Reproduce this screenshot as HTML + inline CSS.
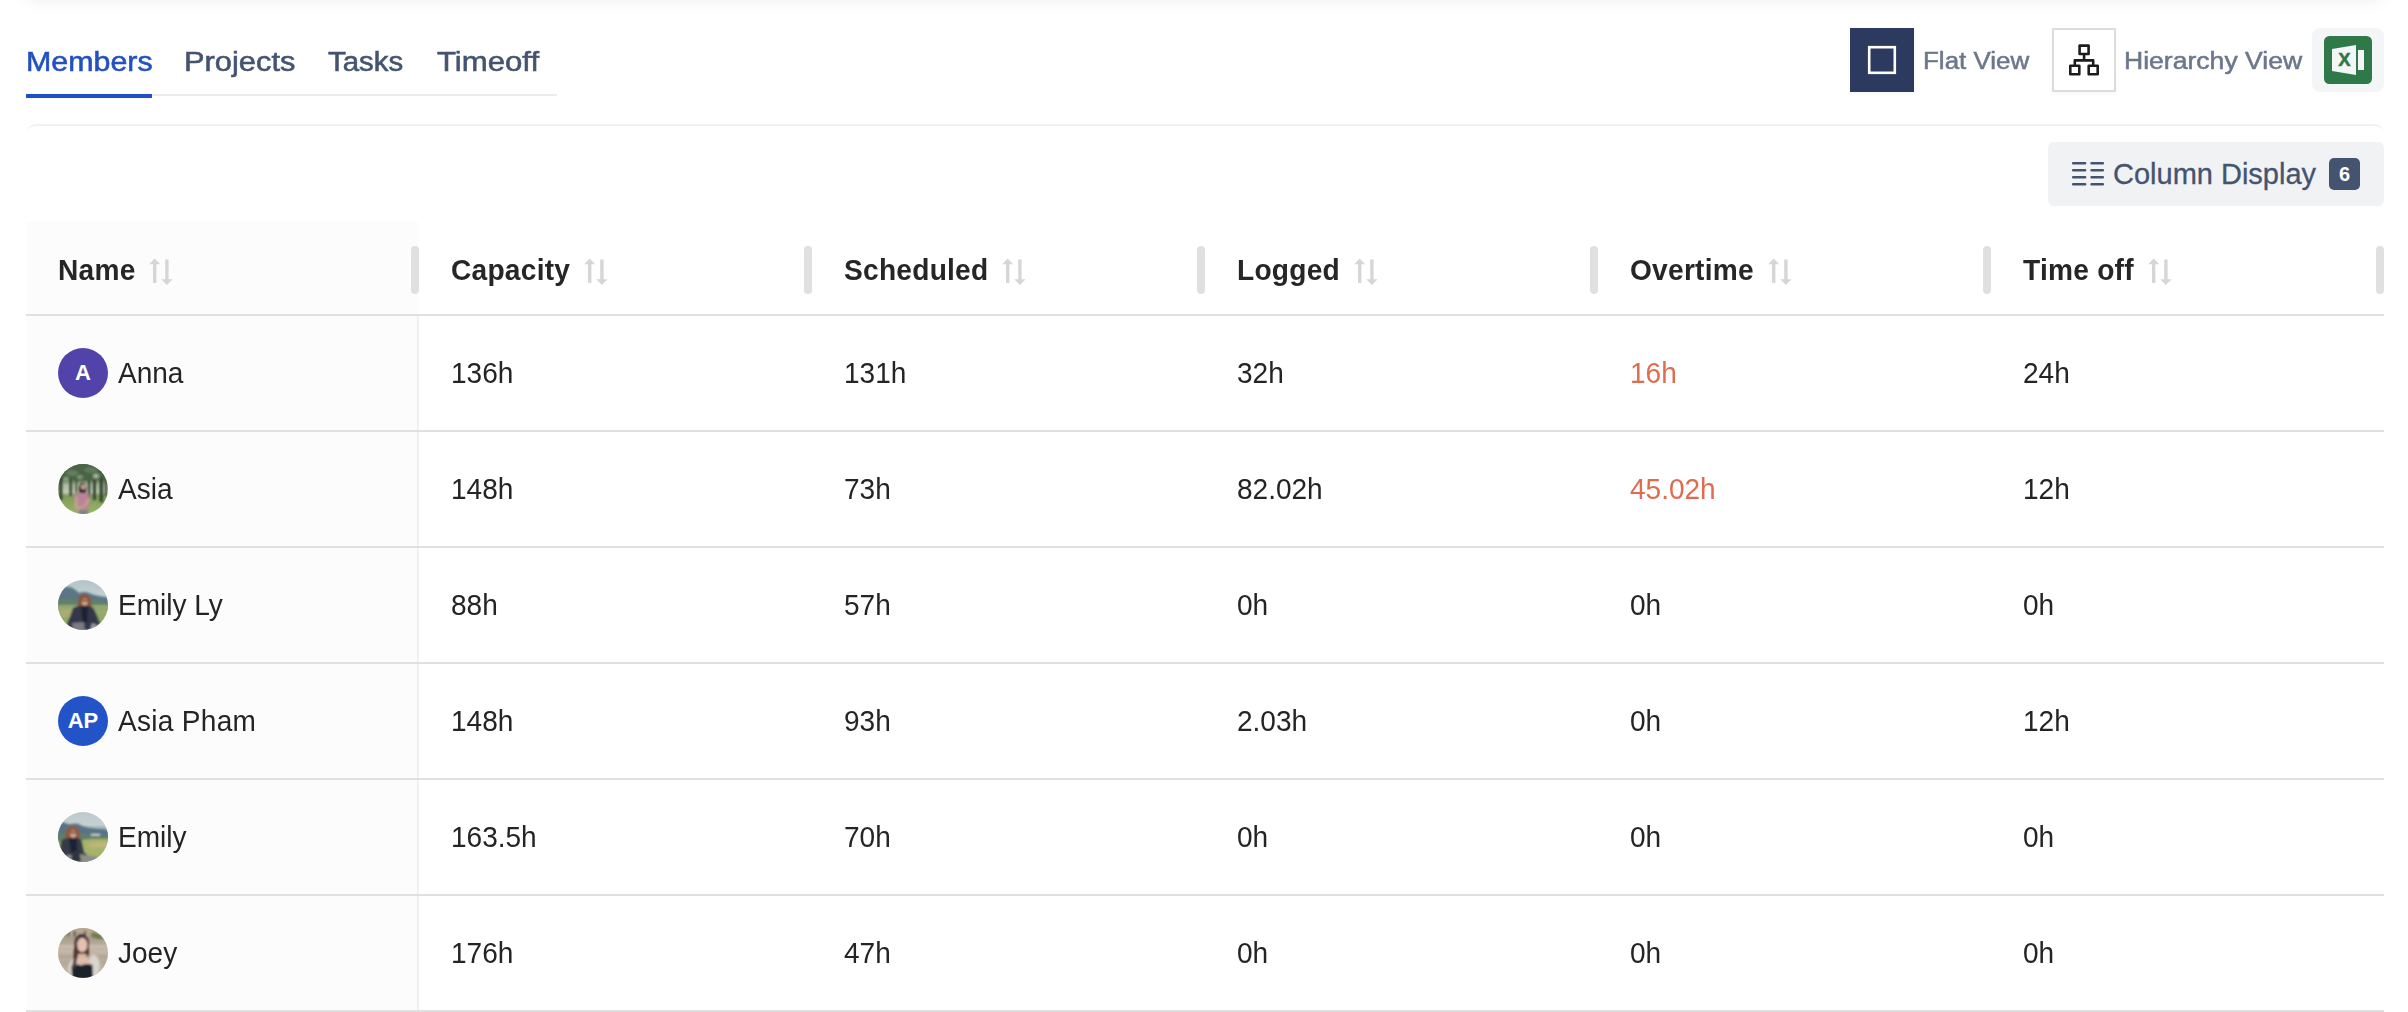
<!DOCTYPE html>
<html lang="en">
<head>
<meta charset="utf-8">
<title>Members report</title>
<style>
*{box-sizing:border-box;margin:0;padding:0}
html,body{width:2408px;height:1012px;overflow:hidden;background:#fff}
body{position:relative;font-family:"Liberation Sans",Arial,sans-serif;color:#242424}
.abs{position:absolute}
.topshadow{left:26px;top:-24px;width:2358px;height:24px;box-shadow:0 0 16px rgba(0,0,0,.075);border-radius:8px}
.tab{position:absolute;top:44px;height:36px;line-height:36px;font-size:27px;transform-origin:0 50%;color:#44546f;white-space:nowrap;-webkit-text-stroke:0.55px currentColor}
.tab.active{color:#2350c1}
.tabline{left:26px;top:94px;width:531px;height:2px;background:#ebebed}
.tabactive{left:26px;top:94px;width:126px;height:4px;background:#2050c5}
.vbtn{position:absolute;top:28px;width:64px;height:64px;box-shadow:0 2px 3px rgba(0,0,0,.035)}
.vlabel{position:absolute;top:43px;height:36px;line-height:36px;font-size:23px;transform-origin:0 50%;color:#6b778c;white-space:nowrap;-webkit-text-stroke:0.5px currentColor}
.card{left:26px;top:124px;width:2358px;height:900px;border-top:2px solid #f0f0f0;border-radius:10px}
.coldisp{left:2048px;top:142px;width:336px;height:64px;background:#f1f2f4;border-radius:6px}
.coldisp .txt{position:absolute;left:65px;top:14px;height:36px;line-height:36px;font-size:29px;transform-origin:0 50%;transform:scaleX(1.0);color:#44546f;white-space:nowrap;-webkit-text-stroke:0.3px currentColor}
.coldisp .badge{position:absolute;left:281px;top:16px;width:31px;height:32px;border-radius:5px;background:#44546f;color:#fff;font-size:20px;font-weight:bold;line-height:33px;text-align:center}
.namebg{left:26px;top:222px;width:392px;height:800px;background:#fcfcfc}
.vline{left:417px;top:316px;width:2px;height:700px;background:#f0f0f0}
.hline{left:26px;width:2358px;height:2px;background:#e0e0e0}
.th{position:absolute;top:250px;height:40px;line-height:40px;font-size:29px;transform:scaleX(0.97);transform-origin:0 50%;font-weight:bold;color:#262626;white-space:nowrap;letter-spacing:0.25px}
.rz{position:absolute;top:246px;width:7.5px;height:48px;border-radius:4px;background:#e0e0e0}
.sort{position:absolute;top:258px;width:26px;height:28px}
.td{position:absolute;height:40px;line-height:40px;font-size:28.6px;transform:scaleX(0.98);transform-origin:0 50%;color:#242424;white-space:nowrap}
.td.red{color:#e06c4f}
.av svg{display:block}
.av{position:absolute;left:58px;width:50px;height:50px;border-radius:50%;overflow:hidden;color:#fff;text-align:center;font-weight:bold;line-height:50px;font-size:22px}
</style>
</head>
<body>
<div class="abs topshadow"></div>

<!-- tabs -->
<div class="tab active" style="left:26.1px;transform:scaleX(1.125)">Members</div>
<div class="tab" style="left:184.1px;transform:scaleX(1.142)">Projects</div>
<div class="tab" style="left:328.4px;transform:scaleX(1.090)">Tasks</div>
<div class="tab" style="left:437.2px;transform:scaleX(1.153)">Timeoff</div>
<div class="abs tabline"></div>
<div class="abs tabactive"></div>

<!-- view switch -->
<div class="vbtn" style="left:1850px;background:#2b3a5e">
  <svg width="64" height="64" viewBox="0 0 64 64"><rect x="19.2" y="19.2" width="25.6" height="25.6" fill="none" stroke="#fff" stroke-width="2.6"/></svg>
</div>
<div class="vlabel" style="left:1922.8px;transform:scaleX(1.129)">Flat View</div>
<div class="vbtn" style="left:2052px;background:#fff;border:2px solid #dcdcdc">
  <svg width="60" height="60" viewBox="0 0 60 60" fill="none" stroke="#1c1c1c" stroke-width="2.6" stroke-linejoin="round">
    <rect x="25.6" y="15.6" width="9" height="8.4"/>
    <rect x="16.3" y="35.8" width="9" height="8.4"/>
    <rect x="34.7" y="35.8" width="9" height="8.4"/>
    <path d="M30.1 24v6.4M20.8 35.8v-5.4h18.4v5.4"/>
  </svg>
</div>
<div class="vlabel" style="left:2124.2px;transform:scaleX(1.155)">Hierarchy View</div>
<div class="abs" style="left:2312px;top:28px;width:72px;height:64px;background:#f4f5f7;border-radius:8px">
  <svg class="abs" style="left:12px;top:8px" width="48" height="48" viewBox="0 0 48 48">
    <rect width="48" height="48" rx="5.5" fill="#2f7847"/>
    <path d="M8 13 L32 9 V39 L8 35 Z" fill="#f4f5f7"/>
    <rect x="34" y="14" width="6" height="20" fill="#f4f5f7"/>
    <text x="20.4" y="30.3" font-family="Liberation Sans, sans-serif" font-weight="bold" font-size="18.5" fill="#2f7847" stroke="#2f7847" stroke-width=".5" text-anchor="middle">X</text>
  </svg>
</div>

<div class="abs card"></div>

<!-- column display -->
<div class="abs coldisp">
  <svg class="abs" style="left:24px;top:19px" width="32" height="26" viewBox="0 0 32 26" stroke="#44546f" stroke-width="2.6" stroke-linecap="round">
    <path d="M1.1 2.2h12M1.1 9.2h12M1.1 16.2h12M1.1 23.2h12M19.6 2.2h11.3M19.6 9.2h11.3M19.6 16.2h11.3M19.6 23.2h11.3"/>
  </svg>
  <div class="txt">Column Display</div>
  <div class="badge">6</div>
</div>

<!-- table -->
<div class="abs namebg"></div>
<div class="abs vline"></div>
<!-- header -->
<div class="th" style="left:58px">Name</div>
<svg class="sort" style="left:149px" viewBox="0 0 26 28" fill="#d6d6d6"><path d="M5.7 0.5 L11.2 6.2 H7.4 V25 H4 V6.2 H0.2 Z"/><path d="M17.9 27 L12.2 21.2 H16.2 V1.6 H19.6 V21.2 H23.6 Z"/></svg>
<div class="rz" style="left:411px"></div>
<div class="th" style="left:451px">Capacity</div>
<svg class="sort" style="left:584px" viewBox="0 0 26 28" fill="#d6d6d6"><path d="M5.7 0.5 L11.2 6.2 H7.4 V25 H4 V6.2 H0.2 Z"/><path d="M17.9 27 L12.2 21.2 H16.2 V1.6 H19.6 V21.2 H23.6 Z"/></svg>
<div class="rz" style="left:804px"></div>
<div class="th" style="left:844px">Scheduled</div>
<svg class="sort" style="left:1002px" viewBox="0 0 26 28" fill="#d6d6d6"><path d="M5.7 0.5 L11.2 6.2 H7.4 V25 H4 V6.2 H0.2 Z"/><path d="M17.9 27 L12.2 21.2 H16.2 V1.6 H19.6 V21.2 H23.6 Z"/></svg>
<div class="rz" style="left:1197px"></div>
<div class="th" style="left:1237px">Logged</div>
<svg class="sort" style="left:1354px" viewBox="0 0 26 28" fill="#d6d6d6"><path d="M5.7 0.5 L11.2 6.2 H7.4 V25 H4 V6.2 H0.2 Z"/><path d="M17.9 27 L12.2 21.2 H16.2 V1.6 H19.6 V21.2 H23.6 Z"/></svg>
<div class="rz" style="left:1590px"></div>
<div class="th" style="left:1630px">Overtime</div>
<svg class="sort" style="left:1768px" viewBox="0 0 26 28" fill="#d6d6d6"><path d="M5.7 0.5 L11.2 6.2 H7.4 V25 H4 V6.2 H0.2 Z"/><path d="M17.9 27 L12.2 21.2 H16.2 V1.6 H19.6 V21.2 H23.6 Z"/></svg>
<div class="rz" style="left:1983px"></div>
<div class="th" style="left:2023px">Time off</div>
<svg class="sort" style="left:2148px" viewBox="0 0 26 28" fill="#d6d6d6"><path d="M5.7 0.5 L11.2 6.2 H7.4 V25 H4 V6.2 H0.2 Z"/><path d="M17.9 27 L12.2 21.2 H16.2 V1.6 H19.6 V21.2 H23.6 Z"/></svg>
<div class="rz" style="left:2376px"></div>
<div class="abs hline" style="top:314px"></div>
<div class="abs hline" style="top:430px"></div>
<div class="abs hline" style="top:546px"></div>
<div class="abs hline" style="top:662px"></div>
<div class="abs hline" style="top:778px"></div>
<div class="abs hline" style="top:894px"></div>
<div class="abs hline" style="top:1010px"></div>
<!-- row 1 -->
<div class="av" id="av1" style="top:348px;background:#5243aa">A</div>
<div class="td" style="left:118px;top:353px">Anna</div>
<div class="td" style="left:451px;top:353px">136h</div>
<div class="td" style="left:844px;top:353px">131h</div>
<div class="td" style="left:1237px;top:353px">32h</div>
<div class="td red" style="left:1630px;top:353px">16h</div>
<div class="td" style="left:2023px;top:353px">24h</div>
<!-- row 2 -->
<div class="av" id="av2" style="top:464px"><svg width="50" height="50" viewBox="0 0 50 50"><defs><linearGradient id="g2" x1="0" y1="0" x2="0" y2="1"><stop offset="0" stop-color="#3d5539"/><stop offset=".28" stop-color="#4b6445"/><stop offset=".42" stop-color="#aebba2"/><stop offset=".56" stop-color="#c3cdb6"/><stop offset=".64" stop-color="#7f9c5b"/><stop offset="1" stop-color="#97b566"/></linearGradient><filter id="b2" x="-10%" y="-10%" width="120%" height="120%"><feGaussianBlur stdDeviation="1"/></filter></defs><rect width="50" height="50" fill="url(#g2)"/><g filter="url(#b2)"><g fill="#34442f"><rect x="1" y="8" width="3.4" height="28"/><rect x="11.5" y="10" width="2.6" height="22"/><rect x="17.5" y="12" width="1.6" height="18"/><rect x="30" y="10" width="2.2" height="24"/><rect x="35" y="12" width="3" height="24"/><rect x="41.5" y="10" width="3.6" height="28"/><rect x="47" y="14" width="2" height="18"/></g><ellipse cx="25" cy="7" rx="27" ry="9.5" fill="#4a6346"/><ellipse cx="14" cy="9" rx="6" ry="3" fill="#64805c"/><ellipse cx="33" cy="6" rx="7" ry="3" fill="#5f7a58"/><ellipse cx="38" cy="12" rx="3" ry="2.5" fill="#9fb096"/><ellipse cx="22" cy="13" rx="3" ry="2" fill="#7e9676"/><ellipse cx="8" cy="15" rx="2.5" ry="2" fill="#93a78a"/><ellipse cx="24.6" cy="25.5" rx="3.7" ry="7" fill="#2b2325"/><ellipse cx="25.2" cy="23" rx="2.2" ry="2.8" fill="#c9a190"/><path d="M16 32 Q17 28.6 21 28.8 L28.5 29 Q31.5 29.4 31.8 33 L31 45 L18 46 Z" fill="#b98496"/><path d="M17 33 L16.5 44 Q19 47 22 45 L28 42 L31.8 36 L30 34 L26 41 L19.5 43 L19.5 33 Z" fill="#c7a08f"/><rect x="21" y="46" width="9" height="5" fill="#7d8288"/></g></svg></div>
<div class="td" style="left:118px;top:469px">Asia</div>
<div class="td" style="left:451px;top:469px">148h</div>
<div class="td" style="left:844px;top:469px">73h</div>
<div class="td" style="left:1237px;top:469px">82.02h</div>
<div class="td red" style="left:1630px;top:469px">45.02h</div>
<div class="td" style="left:2023px;top:469px">12h</div>
<!-- row 3 -->
<div class="av" id="av3" style="top:580px"><svg width="50" height="50" viewBox="0 0 50 50"><defs><linearGradient id="g3" x1="0" y1="0" x2="0" y2="1"><stop offset="0" stop-color="#b4c4c7"/><stop offset=".3" stop-color="#c2d0d2"/><stop offset=".5" stop-color="#7e9680"/><stop offset=".62" stop-color="#9aab6c"/><stop offset="1" stop-color="#87a45a"/></linearGradient><filter id="b3" x="-10%" y="-10%" width="120%" height="120%"><feGaussianBlur stdDeviation="1"/></filter></defs><rect width="50" height="50" fill="url(#g3)"/><g filter="url(#b3)"><path d="M-2 14 Q4 6 11 6.8 Q16 8 21 13 Q27 11 31 13 Q38 16 50 17.5 V27 H-2 Z" fill="#5b7686"/><path d="M-2 20 Q12 17 24 21 Q36 19 50 22 V30 H-2 Z" fill="#5f8069"/><rect x="-2" y="25" width="54" height="6" fill="#93a871"/><rect x="2" y="29" width="16" height="8" fill="#b2ad78" opacity=".7"/><path d="M26.3 14 Q33.5 14.5 33 23 L34 29 L29 30 L23 30 L19.5 29 L20 22 Q20 14.5 26.3 14 Z" fill="#8b5439"/><ellipse cx="26.8" cy="22" rx="2.9" ry="3.5" fill="#cfa691"/><rect x="24.3" y="20" width="5" height="1.5" fill="#4a3833"/><path d="M15 28 Q20 25 26 26 Q33 25 36 29 L42 44 L36 47 L32 50 H14 L9 45 Z" fill="#323948"/><path d="M23 26 H30 L29 42 L25 44 Z" fill="#1b2133"/><path d="M14 43 L26 42 L27 51 H15 Z" fill="#7f7984"/><path d="M34 43 L39 45 L36 50 H32 Z" fill="#9a9aa0"/></g></svg></div>
<div class="td" style="left:118px;top:585px">Emily Ly</div>
<div class="td" style="left:451px;top:585px">88h</div>
<div class="td" style="left:844px;top:585px">57h</div>
<div class="td" style="left:1237px;top:585px">0h</div>
<div class="td" style="left:1630px;top:585px">0h</div>
<div class="td" style="left:2023px;top:585px">0h</div>
<!-- row 4 -->
<div class="av" id="av4" style="top:696px;background:#2254c8">AP</div>
<div class="td" style="left:118px;top:701px;letter-spacing:0.3px">Asia Pham</div>
<div class="td" style="left:451px;top:701px">148h</div>
<div class="td" style="left:844px;top:701px">93h</div>
<div class="td" style="left:1237px;top:701px">2.03h</div>
<div class="td" style="left:1630px;top:701px">0h</div>
<div class="td" style="left:2023px;top:701px">12h</div>
<!-- row 5 -->
<div class="av" id="av5" style="top:812px"><svg width="50" height="50" viewBox="0 0 50 50"><defs><linearGradient id="g5" x1="0" y1="0" x2="0" y2="1"><stop offset="0" stop-color="#bcc9cc"/><stop offset=".25" stop-color="#c5d0d2"/><stop offset=".45" stop-color="#6f8a82"/><stop offset=".6" stop-color="#9cae72"/><stop offset=".85" stop-color="#a9b05f"/><stop offset="1" stop-color="#8d927e"/></linearGradient><filter id="b5" x="-10%" y="-10%" width="120%" height="120%"><feGaussianBlur stdDeviation="1"/></filter></defs><rect width="50" height="50" fill="url(#g5)"/><g filter="url(#b5)"><path d="M-2 16 Q2 9 6 10.5 Q10 13 14 12 Q19 10.5 24 14 Q32 17 40 17 Q46 17 52 19 V26 H-2 Z" fill="#587287"/><path d="M-2 22 Q14 19 28 22 Q40 21 52 24 V29 H-2 Z" fill="#5d7f68"/><rect x="33" y="22" width="9" height="1.6" fill="#d6e0e2"/><path d="M24 28 Q36 26 52 27 V44 H28 Z" fill="#a7b26a"/><path d="M30 32 Q40 29 52 30 V36 H32 Z" fill="#c2b580" opacity=".8"/><path d="M14.5 14 Q22 14.5 21.5 23 L22.5 30 L17 31 L11 31 L7 30 L7.5 22 Q7.8 14.5 14.5 14 Z" fill="#935638"/><ellipse cx="15.2" cy="22" rx="3" ry="3.7" fill="#d0a690"/><rect x="12.6" y="19.8" width="5.2" height="1.6" fill="#4d3934"/><path d="M3 29 Q8 25 15 26 Q22 25 24 30 L26 40 L31 44.5 L29 46 L22 42 L21 50 H8 L2 40 Z" fill="#343a48"/><path d="M11 26 H19 L19 40 L13 42 Z" fill="#1c2134"/><path d="M6 44 Q20 40 40 45 L36 52 H10 Z" fill="#8b8d88"/><path d="M14 40 L21 38 L23 50 H13 Z" fill="#2f3442"/></g></svg></div>
<div class="td" style="left:118px;top:817px">Emily</div>
<div class="td" style="left:451px;top:817px">163.5h</div>
<div class="td" style="left:844px;top:817px">70h</div>
<div class="td" style="left:1237px;top:817px">0h</div>
<div class="td" style="left:1630px;top:817px">0h</div>
<div class="td" style="left:2023px;top:817px">0h</div>
<!-- row 6 -->
<div class="av" id="av6" style="top:928px"><svg width="50" height="50" viewBox="0 0 50 50"><defs><linearGradient id="g6" x1="0" y1="0" x2="0" y2="1"><stop offset="0" stop-color="#b3a594"/><stop offset=".2" stop-color="#a99d8e"/><stop offset=".45" stop-color="#c3b7a8"/><stop offset=".7" stop-color="#b5a999"/><stop offset="1" stop-color="#c9beb0"/></linearGradient><filter id="b6" x="-10%" y="-10%" width="120%" height="120%"><feGaussianBlur stdDeviation="1"/></filter></defs><rect width="50" height="50" fill="url(#g6)"/><g filter="url(#b6)"><rect x="0" y="0" width="50" height="8" fill="#b7a690"/><g fill="#5a544c"><rect x="10" y="4" width="1.8" height="4"/><rect x="15.5" y="3" width="2.2" height="5.5"/><rect x="26" y="3" width="2" height="4"/></g><path d="M33 5 Q40 3 46 11 L40 11 Q36 9 33 9 Z" fill="#6d7d49"/><path d="M5 8 Q8 5 12 8 Z" fill="#7d8a55"/><rect x="0" y="17" width="50" height="3" fill="#d0c5b8" opacity=".6"/><rect x="0" y="27" width="50" height="3" fill="#a89c8d" opacity=".6"/><path d="M16.5 14 Q17 6.5 24 6.8 Q31 7 31 15 L31 27 L27 30 L21 31 L19 42 L13.5 40 Q16 28 16.5 14 Z" fill="#4d3431"/><ellipse cx="24.2" cy="17" rx="5.2" ry="7.2" fill="#e4c0b0"/><path d="M20 26 H28 L30 34 H19 Z" fill="#dcb5a4"/><path d="M10 40 Q12 30 19 29 L22 36 L31 35 Q31 26.5 36 26.5 Q41 28 42 38 L40 48 L12 48 Z" fill="#d9d4ce"/><path d="M20 30 L30 30 L32 36 L19 38 Z" fill="#dfbcab"/><path d="M13.5 38 Q19 35.5 23 37.5 Q29 35 34.5 37 L35 51 H14 Z" fill="#1f232c"/><path d="M16.5 16 Q17 28 14 40 L17 41 Q20 30 19.5 18 Z" fill="#4d3431"/><rect x="20" y="6" width="8" height="2.4" rx="1.2" fill="#2a2c45"/></g></svg></div>
<div class="td" style="left:118px;top:933px">Joey</div>
<div class="td" style="left:451px;top:933px">176h</div>
<div class="td" style="left:844px;top:933px">47h</div>
<div class="td" style="left:1237px;top:933px">0h</div>
<div class="td" style="left:1630px;top:933px">0h</div>
<div class="td" style="left:2023px;top:933px">0h</div>
</body>
</html>
